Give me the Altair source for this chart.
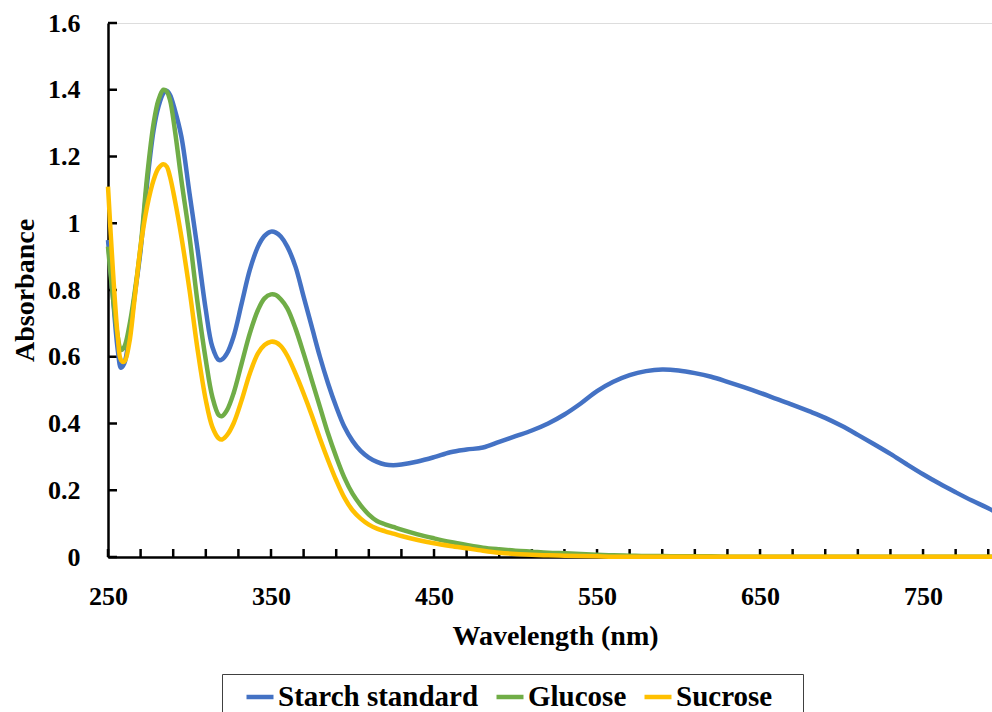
import altair as alt
import pandas as pd

# Absorbance spectra (wavelength in nm)
wavelength = [250, 253, 256, 258, 260, 263, 266, 270, 274, 278, 281, 284, 286, 288,
              291, 295, 300, 305, 310, 314, 318, 320, 323, 327, 332, 337, 342, 346,
              350, 353, 356, 360, 365, 370, 375, 380, 385, 390, 395, 400, 405, 410,
              415, 420, 425, 430, 440, 450, 460, 470, 480, 490, 500, 510, 520, 530,
              540, 550, 560, 570, 580, 590, 600, 610, 620, 630, 640, 650, 660, 670,
              680, 690, 700, 710, 720, 730, 740, 750, 760, 770, 780, 790, 800]

starch = [0.95, 0.78, 0.62, 0.567, 0.58, 0.66, 0.77, 0.92, 1.12, 1.28, 1.35, 1.39, 1.397, 1.385,
          1.34, 1.26, 1.09, 0.92, 0.74, 0.63, 0.59, 0.592, 0.61, 0.66, 0.76, 0.86, 0.93, 0.962,
          0.975, 0.972, 0.96, 0.93, 0.87, 0.78, 0.69, 0.60, 0.52, 0.45, 0.39, 0.348, 0.318, 0.298,
          0.285, 0.277, 0.275, 0.277, 0.286, 0.299, 0.314, 0.322, 0.328, 0.345, 0.362, 0.379, 0.40, 0.427,
          0.46, 0.497, 0.525, 0.545, 0.557, 0.562, 0.559, 0.551, 0.540, 0.525, 0.509, 0.492, 0.474, 0.456,
          0.437, 0.417, 0.393, 0.366, 0.338, 0.309, 0.278, 0.248, 0.220, 0.194, 0.169, 0.146, 0.12]

glucose = [0.93, 0.78, 0.66, 0.62, 0.63, 0.69, 0.78, 0.93, 1.14, 1.30, 1.37, 1.40, 1.395, 1.37,
           1.28, 1.13, 0.96, 0.76, 0.59, 0.48, 0.425, 0.422, 0.44, 0.49, 0.58, 0.67, 0.74, 0.775,
           0.787, 0.785, 0.772, 0.745, 0.685, 0.61, 0.53, 0.45, 0.37, 0.30, 0.238, 0.19, 0.155, 0.127,
           0.108, 0.098, 0.09, 0.082, 0.068, 0.056, 0.045, 0.036, 0.028, 0.023, 0.019, 0.016, 0.013, 0.011,
           0.009, 0.007, 0.005, 0.004, 0.003, 0.003, 0.002, 0.002, 0.002, 0.001, 0.001, 0.001, 0.001, 0.001,
           0.001, 0.001, 0.001, 0.001, 0.001, 0.001, 0.001, 0.001, 0.001, 0.001, 0.001, 0.001, 0.001]

sucrose = [1.11, 0.86, 0.66, 0.59, 0.585, 0.64, 0.76, 0.93, 1.05, 1.13, 1.165, 1.177, 1.17, 1.14,
           1.07, 0.96, 0.80, 0.62, 0.47, 0.39, 0.355, 0.352, 0.365, 0.40, 0.47, 0.55, 0.61, 0.635,
           0.645, 0.643, 0.632, 0.603, 0.55, 0.49, 0.425, 0.355, 0.29, 0.23, 0.178, 0.14, 0.115, 0.097,
           0.085, 0.077, 0.07, 0.063, 0.051, 0.041, 0.033, 0.026, 0.019, 0.013, 0.009, 0.007, 0.005, 0.004,
           0.003, 0.002, 0.001, 0.001, 0.001, 0.001, 0.001, 0.001, 0.001, 0.001, 0.001, 0.001, 0.001, 0.001,
           0.001, 0.001, 0.001, 0.001, 0.001, 0.001, 0.001, 0.001, 0.001, 0.001, 0.001, 0.001, 0.001]

series_names = ["Starch standard", "Glucose", "Sucrose"]
series_colors = ["#4472C4", "#70AD47", "#FFC000"]

x_tick_values = list(range(250, 800, 20))
x_label_values = [250, 350, 450, 550, 650, 750]
y_tick_values = [0, 0.2, 0.4, 0.6, 0.8, 1.0, 1.2, 1.4, 1.6]

rows = []
for name, values in zip(series_names, [starch, glucose, sucrose]):
    for w, a in zip(wavelength, values):
        rows.append({"Wavelength": w, "Absorbance": a, "Sample": name})
df = pd.DataFrame(rows)

FONT = "Liberation Serif"
W, H = 884, 534

x_scale = alt.Scale(domain=[250, 792.3], nice=False, zero=False)
y_scale = alt.Scale(domain=[0, 1.6], nice=False)

x_axis = alt.Axis(values=x_label_values, format="d", ticks=False, tickSize=0,
                  labelFlush=False, labelOverlap=False,
                  labelPadding=26, labelFontSize=26, labelFont=FONT, labelFontWeight="bold",
                  labelColor="black", domainColor="black", domainWidth=2.5, grid=False,
                  title="Wavelength (nm)", titleFont=FONT, titleFontSize=28,
                  titleFontWeight="bold", titleColor="black",
                  titleX=447, titleY=79, titleAlign="center", titleBaseline="middle")
y_axis = alt.Axis(values=y_tick_values, format=".1~f", ticks=False, tickSize=0,
                  labelFlush=False, labelOverlap=False,
                  labelPadding=28, labelFontSize=26, labelFont=FONT, labelFontWeight="bold",
                  labelColor="black", domainColor="black", domainWidth=2.5, grid=False,
                  title="Absorbance", titleFont=FONT, titleFontSize=28,
                  titleFontWeight="bold", titleColor="black",
                  titleX=-83, titleY=267, titleAlign="center", titleBaseline="middle")

# bordered legend below the plot; the blank right-hand title keeps the box's right margin
color = alt.Color("Sample:N",
                  scale=alt.Scale(domain=series_names, range=series_colors),
                  legend=alt.Legend(title=" ", titleOrient="right", titlePadding=24,
                                    titleFontSize=10,
                                    orient="none", direction="horizontal",
                                    legendX=114, legendY=651,
                                    symbolType="stroke", symbolSize=729,
                                    symbolStrokeWidth=4.5, symbolOffset=15,
                                    labelOffset=2, columnPadding=0, padding=7,
                                    strokeColor="#404040",
                                    labelFont=FONT, labelFontSize=29,
                                    labelFontWeight="bold", labelColor="black",
                                    labelLimit=400))

base = alt.Chart(df)
lines = [
    base.transform_filter(alt.datum.Sample == name).mark_line(
        strokeWidth=4.5, interpolate="catmull-rom"
    ).encode(
        x=alt.X("Wavelength:Q", scale=x_scale, axis=x_axis),
        y=alt.Y("Absorbance:Q", scale=y_scale, axis=y_axis),
        color=color,
    )
    for name in series_names
]

# inward-pointing tick marks on both axes
x_ticks = alt.Chart(pd.DataFrame({"t": x_tick_values})).mark_rule(
    color="black", strokeWidth=2.5
).encode(x=alt.X("t:Q", scale=x_scale), y=alt.value(H), y2=alt.value(H - 8))

y_ticks = alt.Chart(pd.DataFrame({"t": y_tick_values})).mark_rule(
    color="black", strokeWidth=2.5
).encode(y=alt.Y("t:Q", scale=y_scale), x=alt.value(0), x2=alt.value(9))

chart = alt.layer(x_ticks, y_ticks, *lines).properties(
    width=W, height=H,
    autosize=alt.AutoSizeParams(type="none"),
    padding={"left": 108, "top": 23, "right": 0, "bottom": 155},
).configure_view(stroke=None).configure(background="white")

chart.save("out.html", embed_options={"renderer": "svg", "actions": False})
